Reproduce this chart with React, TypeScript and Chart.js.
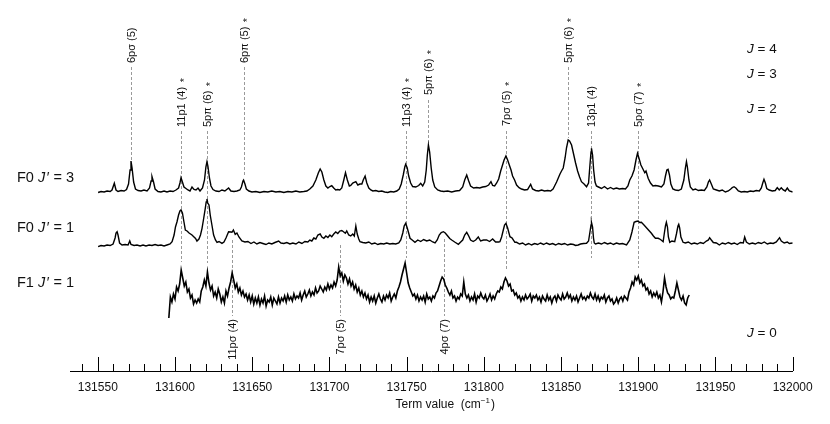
import React, { useEffect, useRef } from "react";
import { Chart, registerables } from "chart.js";

Chart.register(...registerables);

const FONT = "'Liberation Sans', Arial, Helvetica, sans-serif";

// ---- axis ----
const X_MIN = 131532;
const X_MAX = 132000;
const MAJOR_TICKS = [131550, 131600, 131650, 131700, 131750, 131800, 131850, 131900, 131950, 132000];
const MINOR_TICKS = [
  131540, 131560, 131570, 131580, 131590, 131610, 131620, 131630, 131640, 131660, 131670, 131680, 131690,
  131710, 131720, 131730, 131740, 131760, 131770, 131780, 131790, 131810, 131820, 131830, 131840, 131860,
  131870, 131880, 131890, 131910, 131920, 131930, 131940, 131960, 131970, 131980, 131990,
];

// ---- vertical offsets of the stacked spectra (arbitrary intensity units) ----
const OFFSET_F0_J3 = 180;
const OFFSET_F0_J1 = 127;
const OFFSET_F1_J1 = 71;

// ---- F0 J' = 3 spectrum: [term value, intensity] ----
const F0_J3: [number, number][] = [
  [131550.2,-1.5],[131552.1,-0.5],[131554.1,-1],[131556.0,0],[131558.0,-0.5],[131559.2,1],[131560.7,7.7],[131561.8,1],[131563.1,-0.5],[131565.1,0.5],[131567.0,0],[131568.6,1.5],[131569.9,7],[131570.9,21],[131571.5,30],[131572.2,23],[131573.2,9],[131574.4,2],[131576.1,0.5],[131578.0,0],[131579.9,1],[131581.9,0],[131583.5,3],[131584.5,10],[131585.1,14.3],[131586.1,9],[131587.1,2],[131589.0,-0.5],[131590.9,-1],[131592.9,0],[131594.8,-1],[131596.8,0],[131598.7,-0.5],[131600.6,1],[131602.3,3],[131603.2,8],[131603.9,13.3],[131604.8,9],[131605.8,4],[131607.1,2.5],[131608.4,1],[131609.7,0],[131611.0,4],[131612.3,1.5],[131613.6,1],[131614.9,3],[131616.2,0],[131617.8,3],[131619.1,11],[131620.0,24],[131620.7,29.3],[131621.3,25],[131622.3,13],[131623.3,5],[131624.6,1.5],[131626.5,0],[131628.5,-0.5],[131630.4,1],[131632.3,0],[131634.7,3],[131636.2,0],[131638.2,-0.5],[131640.1,0],[131642.0,1],[131643.0,4],[131644.0,10],[131644.4,11],[131645.3,7],[131646.2,2],[131647.9,0],[131649.8,-1],[131652.4,-0.5],[131655.0,-1.5],[131657.6,-0.5],[131660.1,-1],[131662.7,0],[131665.3,-1],[131667.9,-0.5],[131670.5,-1.5],[131673.1,-0.5],[131675.7,-1],[131678.3,0],[131680.8,-1],[131683.4,-0.5],[131685.4,0],[131687.3,2],[131689.3,5],[131691.2,11],[131692.8,18],[131694.0,22],[131695.1,19],[131696.4,11],[131697.7,5],[131699.0,3],[131700.3,4.5],[131701.5,5.3],[131702.8,3],[131704.1,1],[131705.4,1.5],[131706.7,1],[131708.0,3],[131709.3,11],[131710.4,18.3],[131711.6,11],[131712.9,5],[131713.8,5.5],[131715.1,8],[131717.1,9.3],[131718.4,6],[131719.7,7],[131721.0,7],[131721.9,11],[131723.1,15],[131724.2,8],[131725.5,3],[131726.8,1],[131728.1,0],[131730.0,0.5],[131731.9,-0.5],[131733.9,0],[131735.8,-1],[131737.8,-1.5],[131739.7,-0.5],[131741.6,-1],[131743.6,0],[131745.2,2],[131746.5,7],[131747.8,16],[131748.8,24],[131749.4,26.7],[131750.4,23],[131751.3,15],[131752.6,8],[131753.9,4.5],[131755.9,4],[131757.8,5.5],[131759.1,7.7],[131760.4,5],[131761.7,9],[131762.7,21],[131763.4,36],[131764.1,46],[131764.9,39],[131765.9,23],[131766.9,11],[131768.2,4],[131770.1,1],[131772.0,0],[131774.0,-0.5],[131776.6,0],[131779.2,-1],[131781.7,0],[131784.3,0.5],[131786.3,4],[131787.6,11],[131788.9,16],[131790.2,10],[131791.4,5],[131793.4,3],[131795.3,3.5],[131797.3,3],[131799.2,4],[131801.2,4.5],[131803.1,6],[131804.6,9.3],[131805.7,5.5],[131807.0,5],[131808.3,8],[131809.6,12],[131810.9,20],[131812.1,26],[131813.1,31],[131814.3,35],[131815.4,31],[131816.7,25],[131817.6,21],[131818.6,15],[131819.9,11],[131821.2,6],[131822.8,3.3],[131824.4,2],[131826.4,1],[131828.3,1.5],[131830.3,6.7],[131831.5,2],[131833.5,0.5],[131835.4,0],[131837.4,1],[131839.3,0],[131841.3,0.5],[131843.2,0],[131844.8,2],[131845.8,5],[131847.1,9],[131848.2,13],[131849.3,17],[131850.3,20],[131851.4,23],[131852.6,33],[131853.5,43],[131854.6,51],[131855.5,50],[131856.8,46],[131858.1,37],[131859.4,28],[131860.7,20],[131862.0,14],[131863.2,9.3],[131864.9,7],[131866.5,4.3],[131867.8,8],[131868.7,26],[131869.4,39],[131869.7,42.7],[131870.4,36],[131871.1,21],[131872.0,9],[131872.9,5],[131874.2,4],[131876.2,2.5],[131878.1,4.5],[131880.1,2],[131882.0,3.5],[131883.9,2],[131885.9,3],[131887.8,2],[131889.8,2.5],[131891.7,2],[131893.3,5],[131894.5,11],[131895.9,15],[131897.3,21],[131898.5,31],[131899.5,37.7],[131900.4,33],[131901.7,26],[131903.0,22],[131904.2,18.3],[131905.0,20],[131906.4,12.7],[131907.9,8],[131909.5,5],[131911.1,5.5],[131913.0,5],[131915.0,4],[131916.6,7],[131917.6,15],[131918.5,21],[131919.3,21.7],[131920.2,16],[131921.1,7],[131922.4,2],[131924.0,1],[131926.0,0.5],[131927.9,2],[131929.5,11],[131930.5,23],[131931.2,29.3],[131931.8,24],[131932.8,11],[131933.7,4],[131935.4,1],[131937.0,2],[131938.9,0.5],[131940.9,1],[131942.8,0.5],[131944.4,4],[131945.4,9],[131946.2,11],[131947.3,7],[131948.6,2],[131950.6,1],[131952.5,0],[131954.4,1],[131956.4,-1],[131958.3,0],[131959.9,2],[131960.9,3.5],[131962.0,4.3],[131963.2,3],[131964.8,0],[131966.7,-1],[131968.7,-0.5],[131970.6,-1],[131972.6,0],[131974.5,-0.5],[131976.4,0.5],[131978.4,0],[131979.7,3],[131980.6,8],[131981.4,11.7],[131982.3,8],[131983.2,2.5],[131984.8,1],[131986.8,0],[131988.7,0.5],[131990.0,3.3],[131991.3,1],[131992.6,3.3],[131993.9,1],[131995.2,0],[131996.5,3],[131997.8,0],[132000,-1],
];

// ---- F0 J' = 1 spectrum: [term value, intensity] ----
const F0_J1: [number, number][] = [
  [131550.2,-2.7],[131552.1,-1.5],[131554.1,-2],[131556.0,-1],[131558.0,-1.5],[131559.9,0],[131561.2,6],[131561.8,11],[131562.5,12.3],[131563.1,9],[131564.1,1],[131565.7,-1],[131567.7,-0.5],[131569.6,-1],[131570.7,3],[131571.5,-0.5],[131573.5,-1.5],[131575.4,-1],[131577.4,-2],[131579.3,-1],[131581.2,-2],[131583.2,-1],[131585.1,-1.5],[131587.1,-0.5],[131589.0,-1.5],[131590.9,-1],[131592.9,-2],[131594.8,-1],[131596.8,0],[131598.1,2.3],[131599.4,9],[131600.3,17],[131601.3,22.3],[131602.3,29],[131603.2,33],[131603.9,34],[131604.8,31],[131605.8,22],[131606.7,14],[131607.8,13],[131609.1,11],[131611.0,9],[131612.3,7],[131613.3,5.5],[131614.2,3],[131615.5,5],[131616.5,9],[131617.5,15.7],[131618.4,24],[131619.6,35.7],[131620.2,42],[131620.7,45],[131621.2,41],[131622.0,39],[131622.8,29],[131623.9,19],[131625.0,9],[131626.2,4],[131627.2,1.7],[131628.5,2.5],[131630.4,0.7],[131631.7,2],[131633.0,6],[131634.7,12.3],[131636.2,12],[131636.9,11.7],[131637.8,14],[131639.0,9.7],[131640.1,11],[131641.4,7],[131643.3,3],[131645.3,2],[131647.2,2.5],[131649.2,0.5],[131651.1,2],[131653.0,0],[131655.0,1.5],[131656.9,0.5],[131658.9,-0.5],[131660.8,1],[131662.7,0],[131664.7,1.5],[131667.1,3],[131668.6,1],[131670.5,0.5],[131672.4,1.5],[131674.4,0],[131676.3,1],[131678.3,0],[131680.2,2],[131682.2,0.5],[131684.1,2.5],[131686.0,2],[131687.3,4],[131688.6,3],[131689.9,6],[131691.2,5],[131692.5,9],[131694.0,10],[131695.1,7],[131696.4,5.7],[131697.7,8],[131699.0,6.5],[131700.3,9],[131701.5,7.3],[131702.8,10],[131704.1,12],[131705.4,10.5],[131706.7,13],[131708.0,13.5],[131709.3,12],[131710.3,10.7],[131711.2,13],[131712.5,9],[131713.8,8],[131715.1,10],[131716.1,8],[131717.1,18],[131718.0,10],[131719.0,5],[131719.8,2.3],[131721.6,1.5],[131723.5,1],[131725.5,2],[131727.4,0],[131729.4,1],[131731.3,-0.5],[131733.2,0.5],[131735.2,0],[131737.1,1],[131739.1,0],[131741.0,0.5],[131742.9,0],[131744.9,1],[131746.2,4],[131747.5,11],[131748.4,18],[131749.4,20.7],[131750.4,16],[131751.3,11],[131752.2,5.7],[131753.6,4],[131755.4,1.7],[131757.2,4],[131759.1,2.5],[131761.0,4.5],[131763.0,3],[131764.9,4],[131766.9,2],[131768.4,1],[131769.8,4],[131771.1,9],[131772.4,11.5],[131773.8,12.3],[131775.0,11],[131776.6,8],[131777.9,5.5],[131779.2,4],[131781.1,2],[131783.5,-0.3],[131785.0,2],[131786.3,4],[131787.6,9],[131788.9,11.7],[131790.2,8],[131791.4,4],[131793.1,2.5],[131794.7,4],[131796.4,7],[131797.9,3],[131799.8,4],[131801.8,4],[131803.7,2.5],[131805.7,5],[131807.6,2],[131809.6,2],[131810.4,2.3],[131811.5,7],[131812.6,14],[131813.4,19],[131814.3,20.7],[131815.4,16],[131816.9,7.3],[131818.3,6],[131820.1,1.7],[131821.2,1.7],[131823.1,0],[131825.1,1],[131827.0,-1],[131829.0,0.5],[131830.9,-1],[131832.9,0.5],[131834.8,-0.5],[131836.7,1],[131838.7,-0.5],[131840.6,1],[131842.6,-0.5],[131844.5,0.5],[131846.5,-1],[131848.4,0.5],[131850.3,-0.5],[131852.3,0.5],[131854.2,-1],[131856.2,0],[131858.1,-0.5],[131859.4,-1.5],[131861.1,-1],[131862.6,0],[131864.6,0.5],[131866.5,0.7],[131867.8,3],[131868.7,12],[131869.4,19],[131869.7,21.7],[131870.4,17],[131871.0,6],[131871.5,1],[131872.3,0],[131874.2,1],[131876.2,0],[131878.1,1.5],[131880.1,0],[131882.0,1],[131883.9,-0.5],[131885.9,1],[131887.8,0],[131889.8,0.5],[131892.4,-1],[131894.5,4],[131895.9,12],[131897.3,21.7],[131898.5,22.5],[131899.9,23],[131900.9,21.5],[131902.0,21.7],[131903.7,19],[131905.3,16.3],[131906.9,13.5],[131908.5,10.7],[131909.8,8],[131911.1,5.7],[131912.9,5.7],[131914.4,4.5],[131916.1,2.3],[131916.9,11],[131917.6,18],[131918.2,21.7],[131918.9,17],[131919.5,7],[131920.4,1.7],[131921.8,3],[131923.6,2.3],[131924.7,10],[131925.7,18],[131926.2,19.7],[131926.8,16],[131927.6,7],[131929.0,1.7],[131930.5,1],[131932.4,2],[131934.4,0],[131936.3,1],[131938.3,0],[131940.2,1.5],[131942.1,0.5],[131944.1,3],[131945.4,4],[131946.2,6.3],[131947.3,4],[131948.6,1.5],[131950.6,1],[131952.5,-1],[131954.4,1],[131956.4,0],[131958.3,1.5],[131960.3,0],[131962.2,1],[131964.1,-0.5],[131966.1,1.5],[131968.0,1],[131968.9,7],[131970.0,2],[131971.9,0],[131973.9,1],[131975.8,0],[131977.7,1.5],[131979.7,0.5],[131981.6,2],[131983.6,0],[131985.5,1],[131987.4,0.5],[131989.4,2],[131991.5,6.3],[131992.6,3],[131994.5,1],[131996.5,2],[131997.8,0.5],[132000,1],
];

// ---- F1 J' = 1 spectrum: sampled every 1 cm-1 starting at F1_J1_START ----
const F1_J1_START = 131596;
const F1_J1_STEP = 1;
const F1_J1: number[] = [
  -18, 3, -2, 6, 1, 13, 9, 16, 30, 22,
  14, 18, 8, 11, 2, 5, -4, 0, -3, 1,
  -2, 9, 13, 20, 14, 28, 17, 10, 14, 4,
  8, 2, 11, 6, -2, 3, -3, 9, 4, 12,
  18, 27, 20, 12, 16, 8, 12, 5, 9, 3,
  6, 0, 5, -2, 4, -4, 2, -3, 3, -5,
  1, -3, 4, -6, 0, -2, 3, -5, 2, -1,
  -4, 3, -3, 2, -1, 4, -2, 5, 0, 3,
  -1, 6, 1, 4, 2, 7, 0, 5, 9, 3,
  6, 10, 4, 8, 5, 12, 7, 9, 14, 11,
  8, 13, 10, 16, 11, 15, 12, 18, 14, 20,
  33, 24, 27, 19, 25, 22, 16, 21, 14, 18,
  11, 15, 8, 12, 5, 9, 3, 7, 1, 5,
  -2, 3, -1, 4, -3, 2, 6, 1, -2, 4,
  0, 5, 2, 7, -1, 3, 6, 2, 9, 13,
  18, 25, 31, 37, 27, 17, 12, 8, 4, 6,
  1, 5, -1, 3, 0, 4, -2, 6, 1, 3,
  -1, 4, 2, 7, 9, 14, 19, 23, 21, 15,
  12, 8, 5, 9, 2, 4, -1, 3, 1, 6,
  4, 18, 6, 2, 5, -1, 3, 0, 6, -2,
  4, 2, 7, 3, 1, 5, -1, 2, 6, 0,
  4, 1, 6, 9, 8, 13, 11, 18, 22, 19,
  14, 16, 9, 10, 5, 7, 2, 4, -1, 3,
  0, 5, 1, 3, 6, -1, 4, 2, 5, 0,
  3, -2, 4, 1, -1, 5, 0, 3, -3, 2,
  4, -1, 5, 2, 0, 6, 1, 3, 7, 2,
  5, -1, 3, 0, 4, -2, 2, 6, 1, 3,
  0, 4, 2, 7, 3, 1, 6, 0, 4, -1,
  3, 1, 5, -2, 2, 4, -1, 1, -4, -2,
  2, -3, 1, 3, -1, 4, 2, 0, 8, 12,
  18, 15, 23, 20, 24, 17, 20, 14, 16, 10,
  12, 6, 9, 3, 7, 4, 8, 2, 5, -2,
  8, 22, 13, 7, 5, 1, 3, 2, 9, 17,
  10, 3, 0, 4, -3, -5, 2, 5,
];

// ---- assignments (label, term value, star, text anchor level, dashed line from/to levels) ----
type Assign = { label: string; x: number; star: boolean; text: number; from: number; to: number };
const TOP_ASSIGN: Assign[] = [
  { label: "6pσ (5)", x: 131571.5, star: false, text: 308, from: 304, to: 211 },
  { label: "11p1 (4)", x: 131603.9, star: true, text: 244, from: 240, to: 109 },
  { label: "5pπ (6)", x: 131620.6, star: true, text: 244, from: 240, to: 108 },
  { label: "6pπ (5)", x: 131644.5, star: true, text: 308, from: 304, to: 196 },
  { label: "11p3 (4)", x: 131749.5, star: true, text: 244, from: 240, to: 113 },
  { label: "5pπ (6)", x: 131763.9, star: true, text: 276, from: 271, to: 226 },
  { label: "7pσ (5)", x: 131814.5, star: true, text: 245, from: 240, to: 101 },
  { label: "5pπ (6)", x: 131854.8, star: true, text: 308, from: 304, to: 233 },
  { label: "13p1 (4)", x: 131869.7, star: false, text: 244, from: 240, to: 113 },
  { label: "5pσ (7)", x: 131899.7, star: true, text: 244, from: 240, to: 103 },
];
const BOTTOM_ASSIGN: Assign[] = [
  { label: "11pσ (4)", x: 131637, star: false, text: 52, from: 131, to: 55 },
  { label: "7pσ (5)", x: 131707, star: false, text: 52, from: 126, to: 55 },
  { label: "4pσ (7)", x: 131774.2, star: false, text: 52, from: 132, to: 55 },
];

const TRACE_LABELS = [
  { f: "F0", j: "3", level: OFFSET_F0_J3 + 13 },
  { f: "F0", j: "1", level: OFFSET_F0_J1 + 16 },
  { f: "F1", j: "1", level: OFFSET_F1_J1 + 17 },
];
const J_LABELS = [
  { j: "4", level: 322 },
  { j: "3", level: 297 },
  { j: "2", level: 262 },
  { j: "0", level: 38 },
];

const annotationPlugin = {
  id: "spectrumAnnotations",
  beforeDatasetsDraw(chart: any) {
    const { ctx, scales } = chart;
    const x = scales.x;
    const y = scales.y;
    ctx.save();
    ctx.strokeStyle = "#9a9a9a";
    ctx.lineWidth = 1;
    ctx.setLineDash([3, 2]);
    for (const a of [...TOP_ASSIGN, ...BOTTOM_ASSIGN]) {
      const px = Math.round(x.getPixelForValue(a.x)) + 0.5;
      ctx.beginPath();
      ctx.moveTo(px, y.getPixelForValue(a.from));
      ctx.lineTo(px, y.getPixelForValue(a.to));
      ctx.stroke();
    }
    ctx.restore();
  },
  afterDraw(chart: any) {
    const { ctx, scales, chartArea } = chart;
    const x = scales.x;
    const y = scales.y;
    const base = chartArea.bottom;
    ctx.save();
    // tick marks pointing up from the axis
    ctx.strokeStyle = "#000";
    ctx.lineWidth = 1;
    ctx.setLineDash([]);
    ctx.beginPath();
    for (const v of MAJOR_TICKS) {
      const px = Math.round(x.getPixelForValue(v)) + 0.5;
      ctx.moveTo(px, base);
      ctx.lineTo(px, base - 14);
    }
    for (const v of MINOR_TICKS) {
      const px = Math.round(x.getPixelForValue(v)) + 0.5;
      ctx.moveTo(px, base);
      ctx.lineTo(px, base - 7);
    }
    ctx.stroke();

    // axis title centred under the labelled range
    const cx = (x.getPixelForValue(MAJOR_TICKS[0]) + x.getPixelForValue(MAJOR_TICKS[MAJOR_TICKS.length - 1])) / 2;
    ctx.fillStyle = "#111";
    ctx.textBaseline = "middle";
    ctx.textAlign = "left";
    ctx.font = `12px ${FONT}`;
    const t1 = "Term value  (cm";
    const t3 = ")";
    const w1 = ctx.measureText(t1).width;
    const w3 = ctx.measureText(t3).width;
    ctx.font = `8px ${FONT}`;
    const t2 = "\u22121";
    const w2 = ctx.measureText(t2).width;
    const total = w1 + w2 + w3 + 1;
    let tx = cx - total / 2;
    const ty = base + 34;
    ctx.font = `12px ${FONT}`;
    ctx.fillText(t1, tx, ty);
    tx += w1;
    ctx.font = `8px ${FONT}`;
    ctx.fillText(t2, tx, ty - 4);
    tx += w2 + 1;
    ctx.font = `12px ${FONT}`;
    ctx.fillText(t3, tx, ty);

    // assignment labels (rotated)
    ctx.font = `11px ${FONT}`;
    ctx.fillStyle = "#111";
    for (const a of TOP_ASSIGN) {
      const px = Math.round(x.getPixelForValue(a.x)) + 0.5;
      ctx.save();
      ctx.translate(px, y.getPixelForValue(a.text));
      ctx.rotate(-Math.PI / 2);
      ctx.textAlign = "left";
      ctx.textBaseline = "middle";
      ctx.fillText(a.label, 0, 0);
      if (a.star) {
        const w = ctx.measureText(a.label).width;
        ctx.textBaseline = "alphabetic";
        ctx.fillText("*", w + 4.5, 6.5);
      }
      ctx.restore();
    }
    for (const a of BOTTOM_ASSIGN) {
      const px = Math.round(x.getPixelForValue(a.x)) + 0.5;
      ctx.save();
      ctx.translate(px, y.getPixelForValue(a.text));
      ctx.rotate(-Math.PI / 2);
      ctx.textAlign = "right";
      ctx.textBaseline = "middle";
      ctx.fillText(a.label, 0, 0);
      ctx.restore();
    }

    // trace labels on the left
    ctx.textAlign = "left";
    ctx.textBaseline = "middle";
    for (const l of TRACE_LABELS) {
      let lx = 17;
      const ly = y.getPixelForValue(l.level);
      ctx.font = `14.5px ${FONT}`;
      const p1 = l.f + " ";
      ctx.fillText(p1, lx, ly);
      lx += ctx.measureText(p1).width;
      ctx.font = `italic 14.5px ${FONT}`;
      ctx.fillText("J", lx, ly);
      lx += ctx.measureText("J").width + 1.5;
      ctx.font = `14.5px ${FONT}`;
      const p3 = "\u2032 = " + l.j;
      ctx.fillText(p3, lx, ly);
    }

    // rotational level labels on the right
    for (const l of J_LABELS) {
      let lx = 747;
      const ly = y.getPixelForValue(l.level);
      ctx.font = `italic 13.5px ${FONT}`;
      ctx.fillText("J", lx, ly);
      lx += ctx.measureText("J").width;
      ctx.font = `13.5px ${FONT}`;
      ctx.fillText(" = " + l.j, lx, ly);
    }
    ctx.restore();
  },
};

export default function App() {
  const canvasRef = useRef<HTMLCanvasElement | null>(null);

  useEffect(() => {
    document.body.style.margin = "0";
    const canvas = canvasRef.current;
    if (!canvas) return;
    const traceStyle = {
      borderColor: "#000",
      borderWidth: 1.4,
      pointRadius: 0,
      tension: 0,
      fill: false,
    };
    const chart = new Chart(canvas, {
      type: "line",
      data: {
        datasets: [
          { ...traceStyle, label: "F0 J'=3", data: F0_J3.map(([v, i]) => ({ x: v, y: i + OFFSET_F0_J3 })) },
          { ...traceStyle, label: "F0 J'=1", data: F0_J1.map(([v, i]) => ({ x: v, y: i + OFFSET_F0_J1 })) },
          {
            ...traceStyle,
            borderWidth: 1.6,
            label: "F1 J'=1",
            data: F1_J1.map((i, k) => ({ x: F1_J1_START + k * F1_J1_STEP, y: i + OFFSET_F1_J1 })),
          },
        ],
      },
      options: {
        responsive: false,
        animation: false,
        devicePixelRatio: 1,
        layout: { padding: { left: 70, right: 37.3, top: 10, bottom: 20.6 } },
        plugins: { legend: { display: false }, tooltip: { enabled: false } },
        scales: {
          x: {
            type: "linear",
            min: X_MIN,
            max: X_MAX,
            grid: { display: false, drawTicks: false },
            border: { display: true, color: "#000", width: 1 },
            afterBuildTicks: (scale: any) => {
              scale.ticks = MAJOR_TICKS.map((v) => ({ value: v }));
            },
            ticks: {
              autoSkip: false,
              maxRotation: 0,
              padding: 9,
              color: "#111",
              font: { size: 12, family: FONT },
              callback: (v: any) => String(v),
            },
          },
          y: { type: "linear", display: false, min: 0, max: 361 },
        },
      },
      plugins: [annotationPlugin],
    });
    return () => chart.destroy();
  }, []);

  return (
    <div style={{ width: 830, height: 424 }}>
      <canvas ref={canvasRef} width={830} height={424} style={{ display: "block" }} />
    </div>
  );
}
